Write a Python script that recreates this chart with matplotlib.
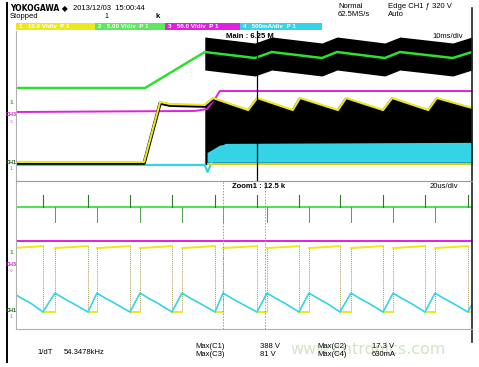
"""Yokogawa scope screenshot: start-up of a PFC / flyback stage (main + zoom view)."""

import matplotlib

matplotlib.use("Agg")
import matplotlib.pyplot as plt
import numpy as np

W, H = 479, 367

YEL = "#ece81c"
GRN = "#2ee02e"
MAG = "#e020e0"
CYA = "#34d4e6"
EDGE = "#a89a5a"

# ---- main view (10 ms/div, 0..100 ms), screen units 0..10 ----
green_t = [0, 28.3, 41.4, 52.4, 56.1, 67.1, 70.4, 80.9, 84.2, 95.8, 100]
green_v = [6.2, 6.2, 8.6, 8.2, 8.6, 8.2, 8.6, 8.2, 8.6, 8.2, 8.6]
band_above = 1.0
band_below = 1.2

mag_t = [0, 39.3, 41.9, 43.9, 44.7, 100]
mag_v = [4.6, 4.67, 4.8, 5.6, 6.0, 6.0]

yel_t = [0, 28.1, 31.6, 33.8, 41.4, 43.2, 50.9, 52.9, 60.7, 62.3, 70.6, 72.4,
         80.5, 82.5, 90.4, 92.3, 100]
yel_v = [1.27, 1.27, 5.27, 5.13, 5.07, 5.53, 4.73, 5.53, 4.73, 5.53, 4.73, 5.53,
         4.73, 5.53, 4.73, 5.53, 4.87]
yel_low_t = [42.0, 100]
yel_low_v = [1.13, 1.13]

cya_t = [0, 41.4, 42.0, 43.0, 44.0, 46.0, 100]
cya_v = [1.07, 1.07, 0.6, 1.3, 1.9, 2.4, 2.47]
cya_band_t = [41.9, 44.7, 47.0, 100]
cya_band_hi = [1.9, 2.4, 2.47, 2.47]
cya_band_lo = 1.25

main_cursor = 52.85

# ---- zoom view (20 us/div, 0..200 us), screen units 0..10 ----
falls = [11.8, 31.6, 50.0, 68.4, 87.3, 105.7, 124.1, 142.1, 161.0, 179.4, 198.2]
rises = [-1.3, 17.1, 35.5, 54.4, 72.8, 90.8, 110.1, 128.5, 146.9, 165.4, 183.8, 202.6]
yel_hi = (5.47, 5.6)
yel_lo = 1.15
cya_min = 1.15
cya_after_rise_dt = [0, 3.5, 8.0]
cya_after_rise_v = [2.43, 2.10, 1.72]
grn_base = 8.24
grn_up = 9.05
grn_down = 7.23
mag_level = 5.95
zoom_cursors = [90.6, 109.0]

FONT = ["Liberation Sans Narrow", "Liberation Sans", "DejaVu Sans"]
plt.rcParams["font.family"] = FONT

fig = plt.figure(figsize=(W / 100, H / 100), dpi=100)
fig.patch.set_facecolor("white")


def px_axes(left, top, right, bottom):
    return fig.add_axes([left / W, 1 - bottom / H, (right - left) / W, (bottom - top) / H])


# main panel
ax1 = px_axes(16, 31, 472, 181)
ax1.set_xlim(0, 100)
ax1.set_ylim(0, 10)
ax1.axis("off")
gt = np.array(green_t)
gv = np.array(green_v)
m = gt >= 41.4
ax1.fill_between(gt[m], gv[m] - band_below, gv[m] + band_above, color="black", lw=0, zorder=1)
ax1.plot(green_t, green_v, color=GRN, lw=1.8, zorder=3)
yt = np.array(yel_t)
yv = np.array(yel_v)
m = yt >= 41.4
ax1.fill_between(yt[m], 1.1, yv[m], color="black", lw=0, zorder=1)
ax1.fill_between(cya_band_t, cya_band_lo, cya_band_hi, color=CYA, lw=0, zorder=2)
ax1.plot(cya_t, cya_v, color=CYA, lw=1.6, zorder=2)
ax1.plot(yel_low_t, yel_low_v, color=YEL, lw=1.3, zorder=3)
ax1.plot(mag_t, mag_v, color=MAG, lw=1.4, zorder=3)
ax1.plot(yel_t, np.array(yel_v) - 0.08, color="black", lw=2.4, zorder=3)
ax1.plot(yel_t, yel_v, color=YEL, lw=1.5, zorder=4)
ax1.axvline(main_cursor, color="black", lw=0.9, zorder=5)

# zoom panel
ax2 = px_axes(16, 181, 472, 329)
ax2.set_xlim(0, 200)
ax2.set_ylim(0, 10)
ax2.axis("off")
ax2.axhline(mag_level, color=MAG, lw=1.4)
ax2.axhline(grn_base, color=GRN, lw=1.2)
for f in falls:
    ax2.plot([f, f], [grn_base, grn_up], color="#2a7a2a", lw=0.8)
    ax2.plot([f, f], [yel_lo, yel_hi[1]], color=EDGE, lw=0.7, ls=(0, (1, 1)))
for r in rises[1:-1]:
    ax2.plot([r, r], [grn_base, grn_down], color="#5a9a5a", lw=0.7)
    ax2.plot([r, r], [yel_lo, yel_hi[0]], color=EDGE, lw=0.7, ls=(0, (1, 1)))

yx, yy, cx, cy = [], [], [], []
for i, r in enumerate(rises[:-1]):
    f = falls[i] if i < len(falls) else rises[i + 1]
    yx += [r, f, np.nan, f, rises[i + 1], np.nan]
    yy += [yel_hi[0], yel_hi[1], np.nan, yel_lo, yel_lo, np.nan]
    cx += [r + d for d in cya_after_rise_dt] + [f, rises[i + 1]]
    cy += cya_after_rise_v + [cya_min, cya_after_rise_v[0]]
ax2.plot(yx, yy, color=YEL, lw=1.4)
ax2.plot(cx, cy, color=CYA, lw=1.2)
for c in zoom_cursors:
    ax2.axvline(c, color="#999999", lw=0.7, ls=(0, (1.5, 1.5)))

# overlay in pixel coordinates for frame and text
ov = fig.add_axes([0, 0, 1, 1], zorder=10)
ov.set_xlim(0, W)
ov.set_ylim(H, 0)
ov.axis("off")
ov.patch.set_alpha(0)
ov.plot([7, 7], [3, 362], color="black", lw=1.4)
ov.plot([472, 472], [8, 342], color="#222222", lw=1.2)
ov.plot([16, 16], [31, 329], color="#b0b0b0", lw=0.8)
ov.plot([16, 472], [181, 181], color="#9a9a9a", lw=0.8)
ov.plot([16, 472], [329, 329], color="#b0b0b0", lw=0.8)

bars = [(16, 95, YEL, "1   10.0 V/div  P 1"),
        (95, 165, "#5ee85e", "2   5.00 V/div  P 1"),
        (165, 240, MAG, "3   50.0 V/div  P 1"),
        (240, 322, CYA, "4   500mA/div  P 1")]
for x0, x1, col, lab in bars:
    ov.fill_between([x0, x1], 23, 30, color=col, lw=0)
    ov.text(x0 + 3, 26.5, lab, fontsize=4.5, color="white", va="center", fontweight="bold")

tk = dict(fontsize=5.5, color="black", va="center")
ov.text(10, 8, "YOKOGAWA \u25c6", fontsize=5.5, fontweight="bold", va="center",
        family=["Liberation Sans Narrow", "DejaVu Sans"])
ov.text(73, 8, "2013/12/03  15:00:44", **tk)
ov.text(10, 16, "Stopped", **tk)
ov.text(104, 16, "1", fontsize=5, va="center")
ov.text(156, 16, "k", fontsize=5.5, fontweight="bold", va="center")
ov.text(338, 7, "Normal", **tk)
ov.text(338, 15, "62.5MS/s", **tk)
ov.text(388, 7, "Edge CH1 \u0192 320 V", **tk)
ov.text(388, 15, "Auto", **tk)
ov.text(226, 37, "Main : 6.25 M", fontsize=5.5, fontweight="bold", va="center")
ov.text(432, 37, "10ms/div", **tk)
ov.text(232, 186, "Zoom1 : 12.5 k", fontsize=5.5, fontweight="bold", va="center")
ov.text(430, 186, "20us/div", **tk)

for y0 in (0, 149):
    ov.text(11.5, 103 + y0, "1", fontsize=4.5, color="#30b030", ha="center", va="center",
            fontweight="bold")
    ov.text(11.5, 115 + y0, "CH3", fontsize=4, color=MAG, ha="center", va="center",
            fontweight="bold")
    ov.text(11.5, 122 + y0, "\u25cb", fontsize=3.5, color=MAG, ha="center", va="center")
    ov.text(11.5, 162 + y0, "CH1", fontsize=4, color="#206020", ha="center", va="center",
            fontweight="bold")
    ov.text(11.5, 168 + y0, "1", fontsize=4, color="#40c040", ha="center", va="center")

ov.text(290, 349, "www.cntronics.com", fontsize=11.5, color="#cfe6c6", va="center",
        family="DejaVu Sans", zorder=0)
ov.text(37, 353, "1/dT", **tk)
ov.text(64, 353, "54.3478kHz", **tk)
ov.text(195, 346, "Max(C1)", **tk)
ov.text(195, 354, "Max(C3)", **tk)
ov.text(260, 346, "388 V", **tk)
ov.text(260, 354, "81 V", **tk)
ov.text(317, 346, "Max(C2)", **tk)
ov.text(317, 354, "Max(C4)", **tk)
ov.text(372, 346, "17.3 V", **tk)
ov.text(372, 354, "630mA", **tk)

fig.savefig("out.png", dpi=100)
